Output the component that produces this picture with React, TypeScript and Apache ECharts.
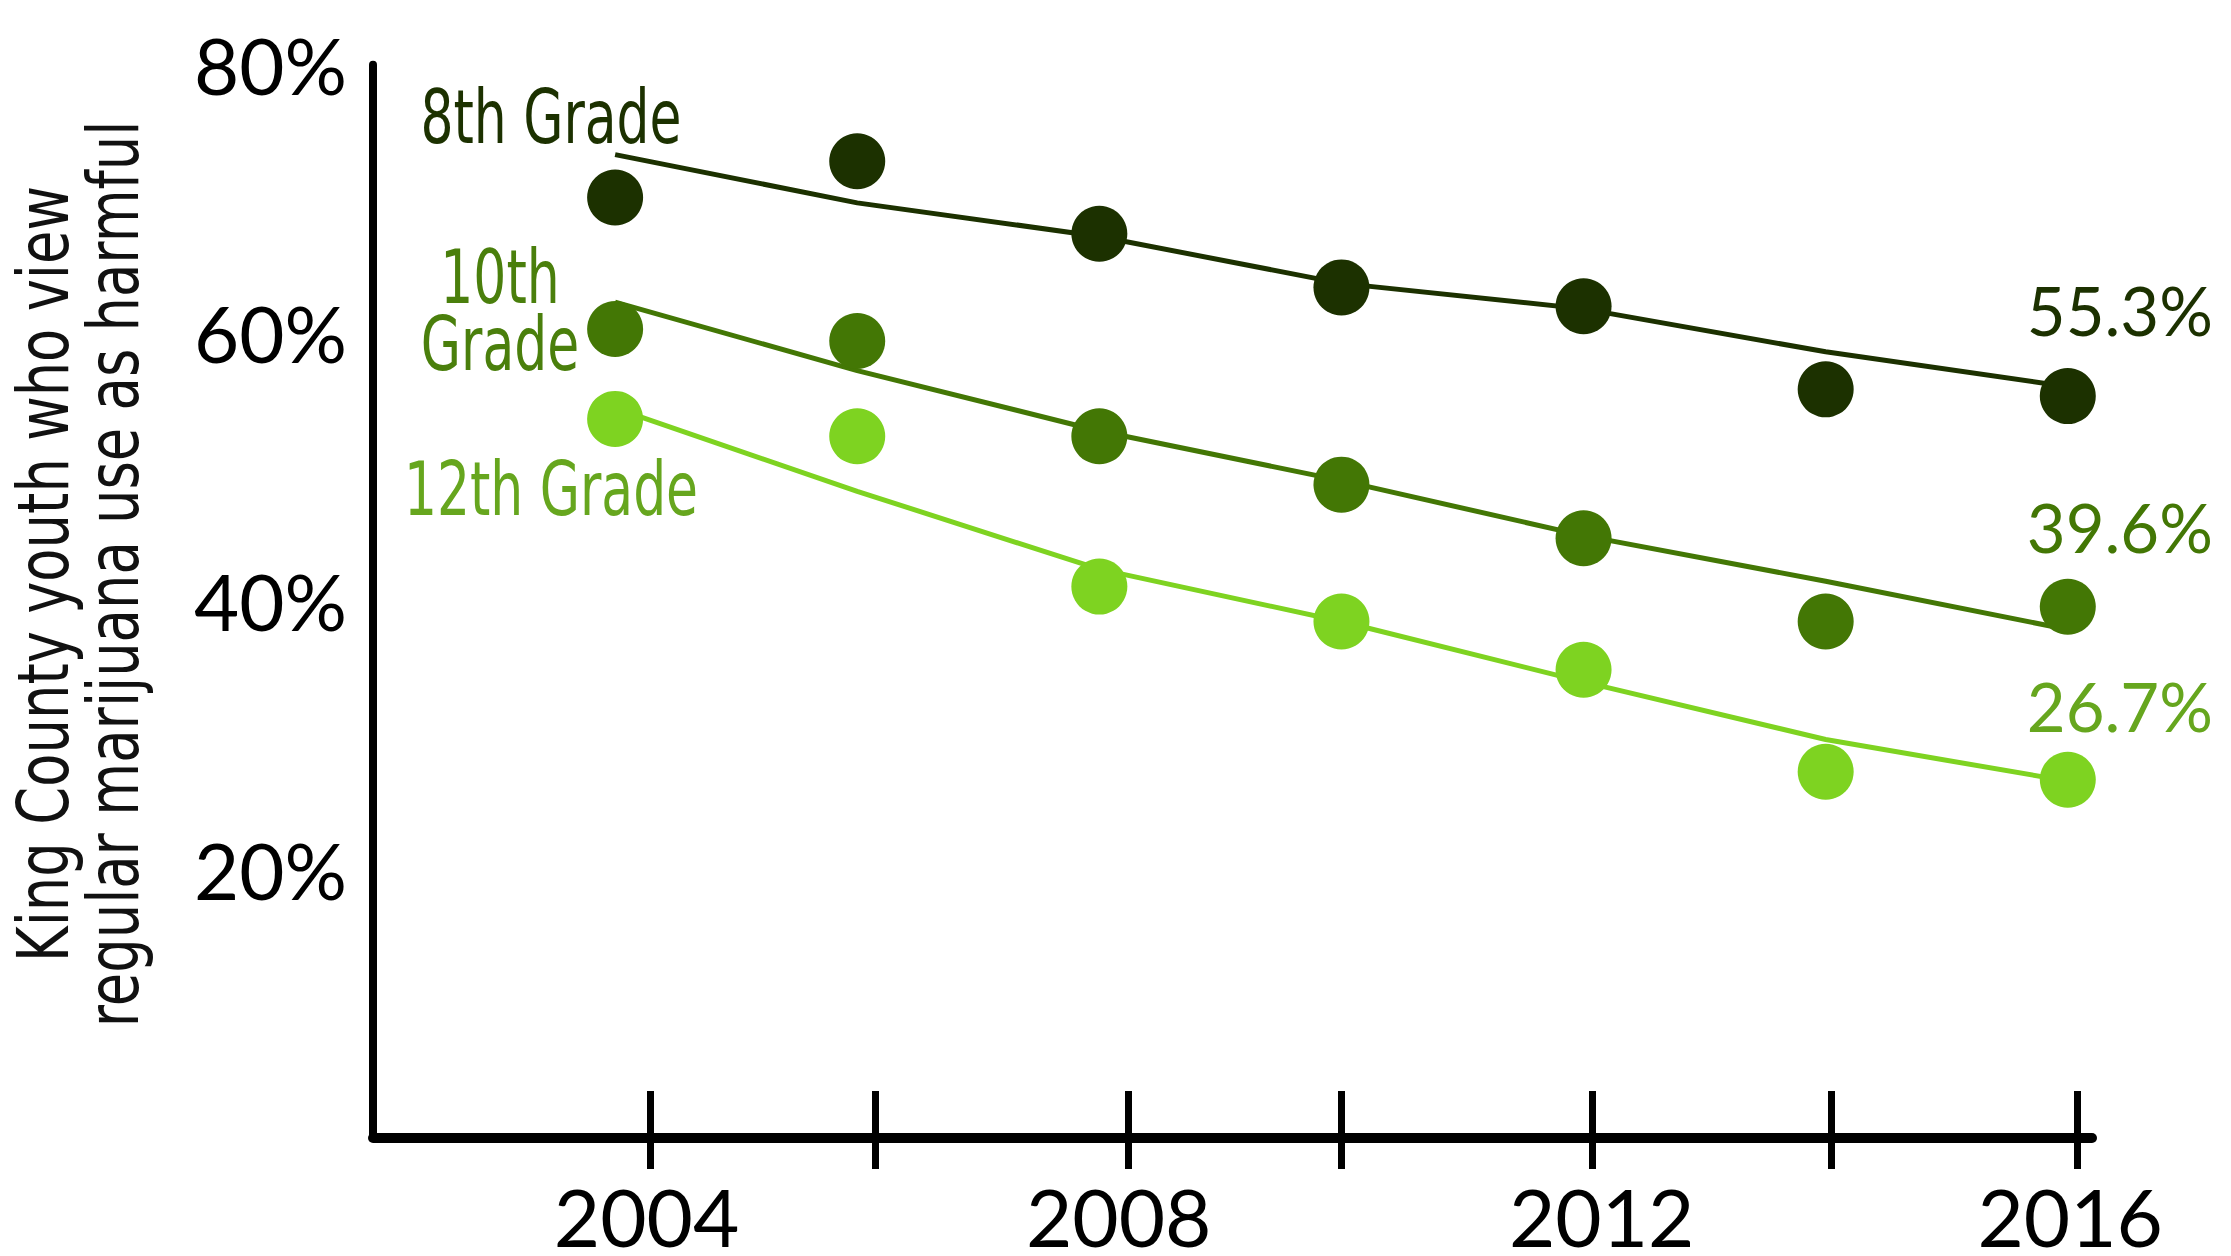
import React, { useEffect, useRef } from "react";
import * as echarts from "echarts";

const years = [2004, 2006, 2008, 2010, 2012, 2014, 2016];
const grade8Points = [70.1, 72.8, 67.4, 63.4, 62.0, 55.8, 55.3];
const grade10Points = [60.3, 59.4, 52.3, 48.7, 44.7, 38.5, 39.6];
const grade12Points = [53.6, 52.3, 41.1, 38.5, 34.9, 27.3, 26.7];
const grade8Trend = [73.3, 69.7, 67.2, 63.7, 61.8, 58.6, 56.0];
const grade10Trend = [62.3, 57.2, 52.7, 49.0, 44.9, 41.5, 37.9];
const grade12Trend = [54.4, 48.2, 42.4, 38.5, 34.0, 29.7, 26.6];
const xLabelYears = [2004, 2008, 2012, 2016];
const yLabelValues = [20, 40, 60, 80];
const gradeNames = ["8th Grade", "10th\nGrade", "12th Grade"];
const yTitle = "King County youth who view\nregular marijuana use as harmful";

// hand-drawn look: ticks and labels sit slightly right of the data years
const tickNudge = [0.29, 0.15, 0.24, 0.0, 0.07, 0.05, 0.08];
const labelNudge = [0.26, 0.16, 0.15, 0.02];

const DARK = "#1c3100";
const MID = "#437705";
const LIGHT = "#7ed321";
const LIGHT_TEXT = "#66a61e";
const CONDENSED = "'Liberation Sans Narrow', 'DejaVu Sans Condensed', 'Open Sans', sans-serif";
const LATO = "Lato, 'Open Sans', sans-serif";

export default function App() {
  const ref = useRef<HTMLDivElement>(null);
  useEffect(() => {
    document.body.style.margin = "0";
    if (!ref.current) return;
    const chart = echarts.init(ref.current, null, { renderer: "svg" });

    const scatter = (name: string, vals: number[], color: string, textColor: string, dy: number) => ({
      name,
      type: "scatter",
      symbolSize: 56,
      z: 5,
      itemStyle: { color, opacity: 1 },
      data: years.map((yr, i) =>
        i === years.length - 1
          ? {
              value: [yr, vals[i]],
              label: {
                show: true,
                position: "inside",
                align: "left",
                verticalAlign: "middle",
                offset: [-41, dy],
                formatter: () => `${vals[i]}%`,
                color: textColor,
                fontFamily: LATO,
                fontSize: 67,
              },
            }
          : [yr, vals[i]]
      ),
    });
    const trend = (name: string, vals: number[], color: string) => ({
      name,
      type: "line",
      symbol: "none",
      z: 3,
      lineStyle: { color, width: 5 },
      data: years.map((yr, i) => [yr, vals[i]]),
    });
    const gradeText = (text: string, x: number, y: number, fill: string) => ({
      type: "text",
      x,
      y,
      scaleX: 0.78,
      style: {
        text,
        fill,
        fontSize: 74,
        fontFamily: CONDENSED,
        lineHeight: 67,
        textAlign: "center",
        textVerticalAlign: "middle",
      },
    });

    chart.setOption({
      animation: false,
      backgroundColor: "#ffffff",
      grid: { left: 373, right: 139, top: 64.7, bottom: 115.8, containLabel: false },
      xAxis: [
        {
          type: "value",
          min: 2002,
          max: 2016.2,
          axisLine: { show: true, lineStyle: { color: "#000", width: 10 } },
          axisTick: {
            show: true,
            inside: true,
            length: 47,
            customValues: years.map((y, i) => y + tickNudge[i]),
            lineStyle: { color: "#000", width: 7 },
          },
          axisLabel: {
            show: true,
            customValues: xLabelYears.map((y, i) => y + labelNudge[i]),
            formatter: (v: number) => String(Math.round(v)),
            color: "#000",
            fontFamily: LATO,
            fontSize: 80,
            lineHeight: 60,
            margin: 48,
          },
          splitLine: { show: false },
        },
        {
          type: "value",
          min: 2002,
          max: 2016.2,
          position: "bottom",
          axisLine: { show: false },
          axisTick: {
            show: true,
            inside: false,
            length: 31,
            customValues: years.map((y, i) => y + tickNudge[i]),
            lineStyle: { color: "#000", width: 7 },
          },
          axisLabel: { show: false },
          splitLine: { show: false },
        },
      ],
      yAxis: {
        type: "value",
        min: 0,
        max: 80,
        interval: 20,
        axisLine: { show: true, lineStyle: { color: "#000", width: 8 } },
        axisTick: { show: false },
        splitLine: { show: false },
        axisLabel: {
          customValues: yLabelValues,
          formatter: (v: number) => `${v}%`,
          color: "#000",
          fontFamily: LATO,
          fontSize: 78,
          margin: 26,
        },
      },
      graphic: [
        {
          type: "text",
          x: 78,
          y: 574,
          rotation: Math.PI / 2,
          scaleX: 0.84,
          style: {
            text: yTitle,
            fill: "#111",
            fontSize: 72,
            fontFamily: CONDENSED,
            lineHeight: 70,
            textAlign: "center",
            textVerticalAlign: "middle",
          },
        },
        gradeText(gradeNames[0], 551, 117, DARK),
        gradeText(gradeNames[1], 500, 311, "#4a7f0c"),
        gradeText(gradeNames[2], 551, 489, LIGHT_TEXT),
      ],
      series: [
        trend("8th Grade trend", grade8Trend, DARK),
        trend("10th Grade trend", grade10Trend, MID),
        trend("12th Grade trend", grade12Trend, LIGHT),
        scatter("8th Grade", grade8Points, DARK, DARK, -86),
        scatter("10th Grade", grade10Points, MID, MID, -80),
        scatter("12th Grade", grade12Points, LIGHT, LIGHT_TEXT, -74),
      ],
    });
    return () => chart.dispose();
  }, []);
  return <div ref={ref} style={{ width: 2231, height: 1256 }} />;
}
